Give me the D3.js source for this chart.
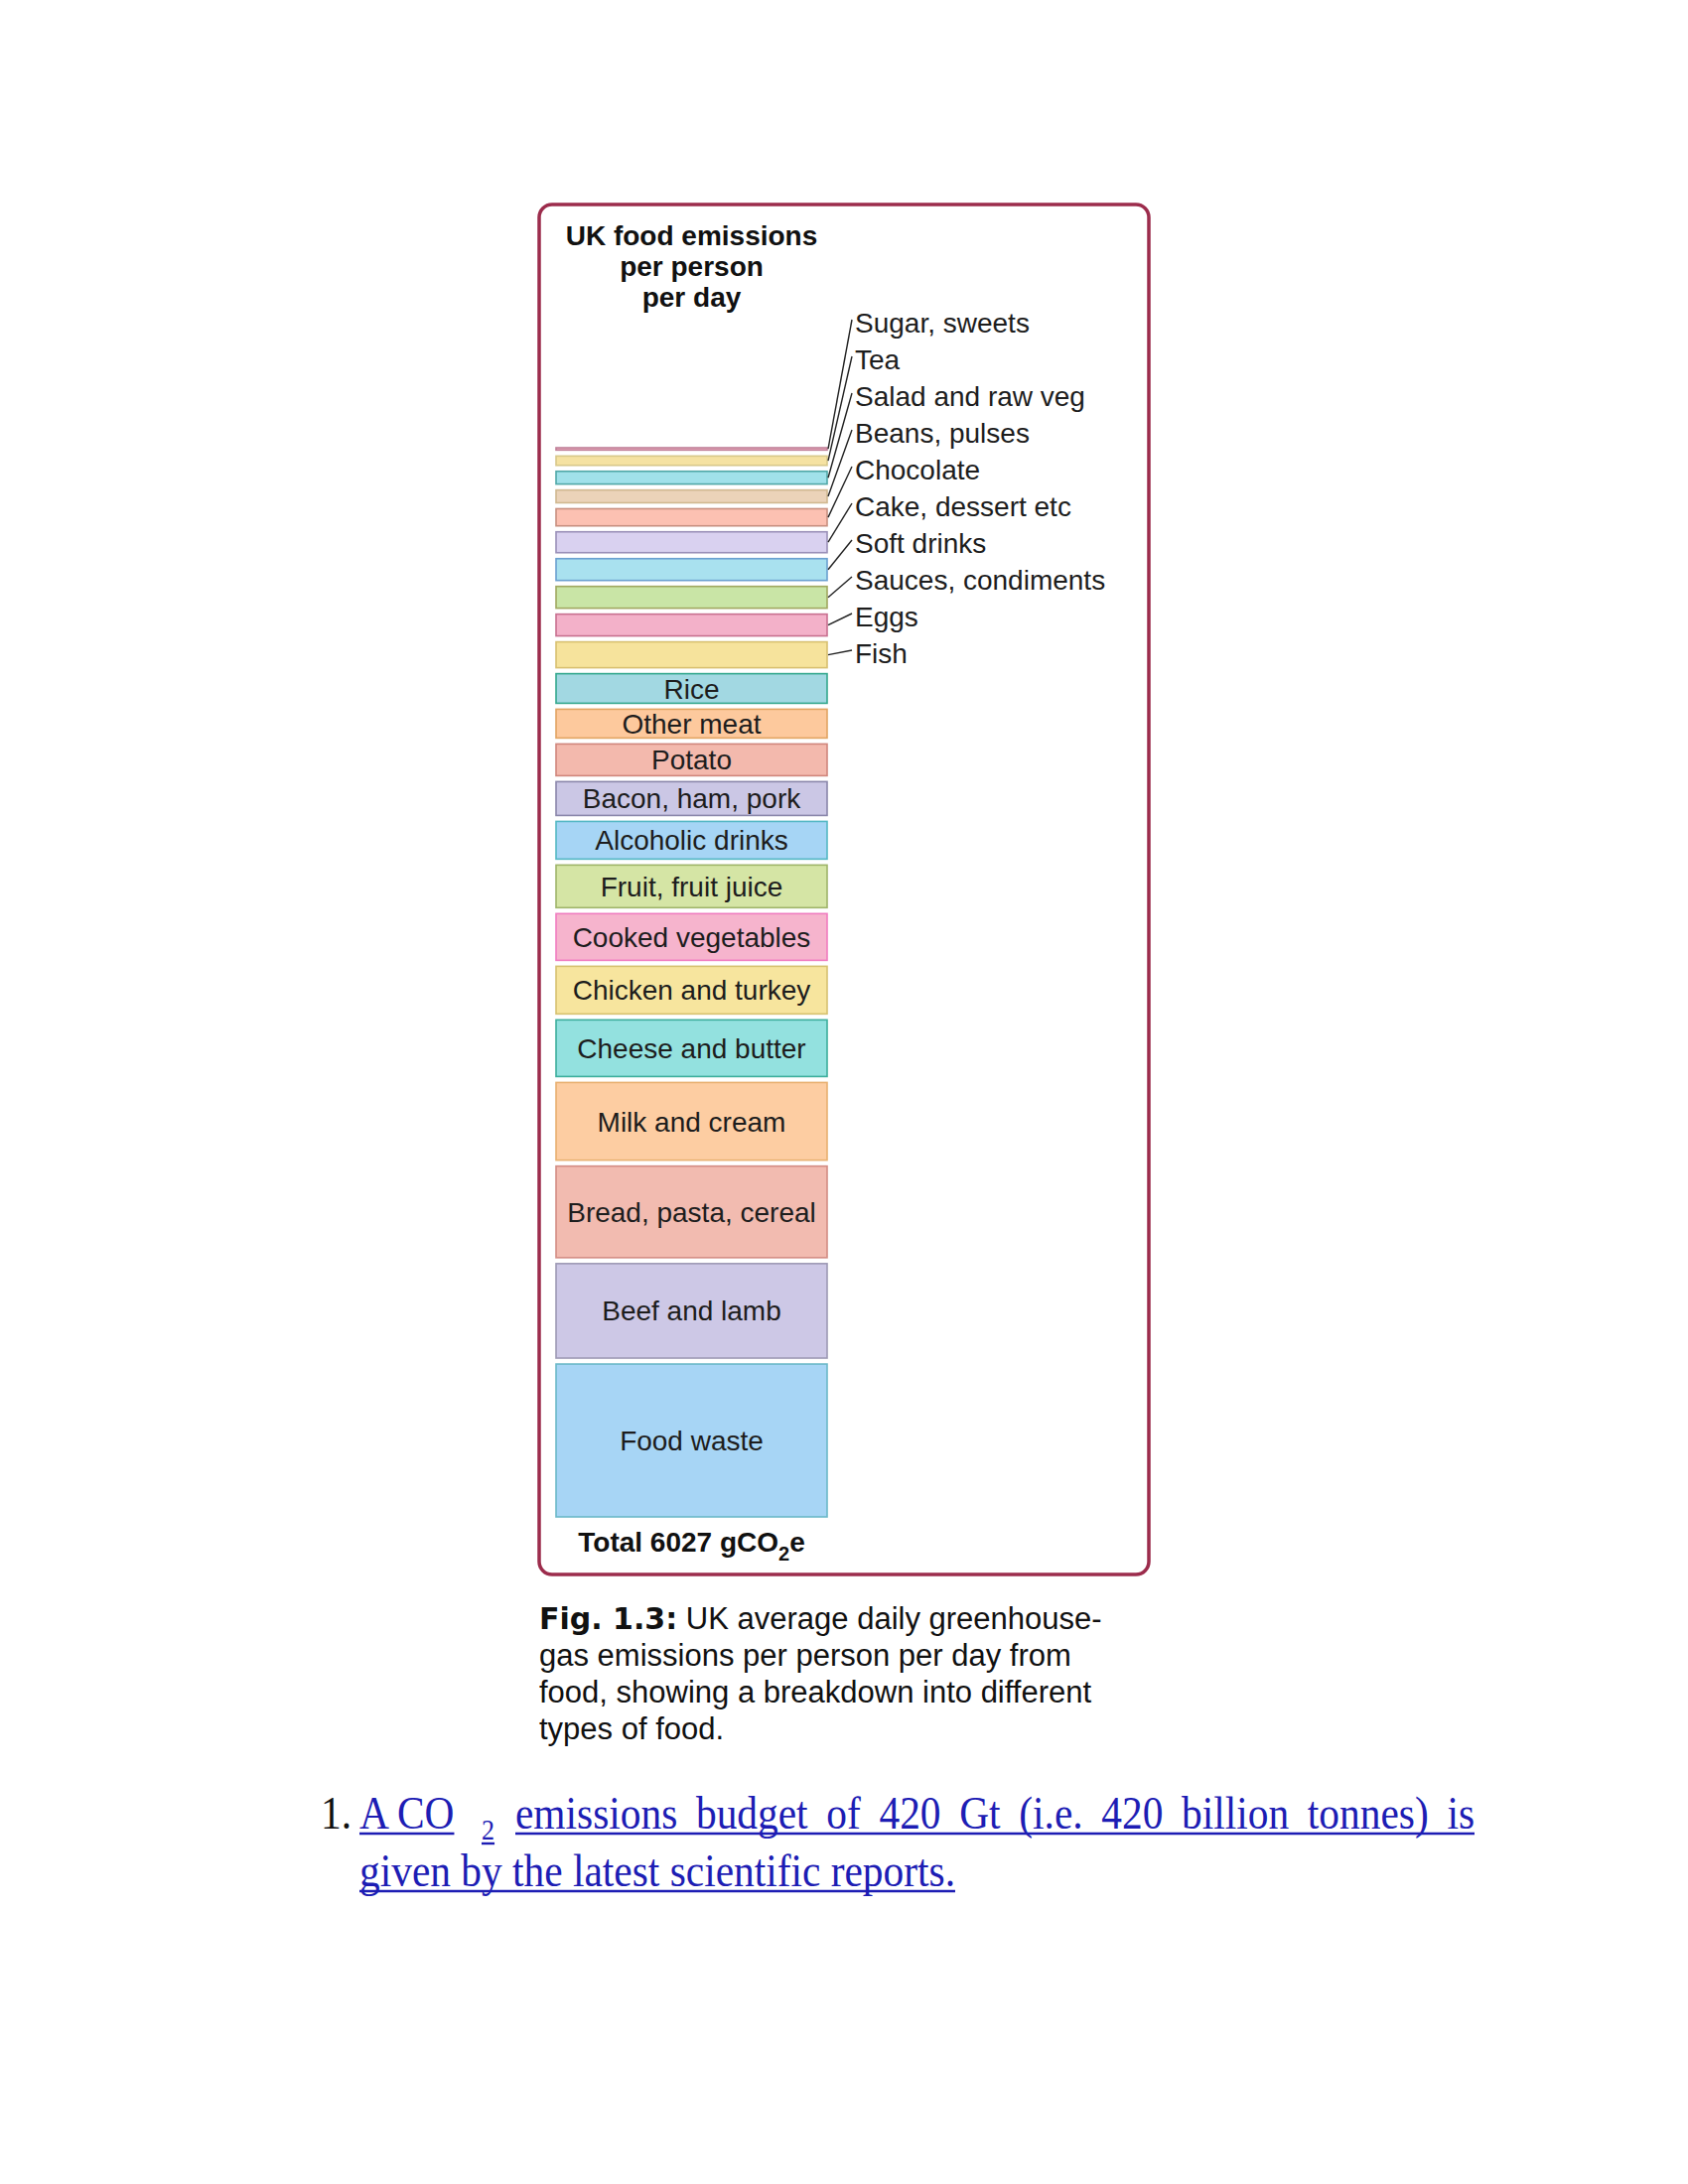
<!DOCTYPE html>
<html>
<head>
<meta charset="utf-8">
<script src="https://cdn.jsdelivr.net/npm/d3@7"></script>
<style>
  html, body { margin: 0; padding: 0; background: #ffffff; }
  svg { display: block; }
  text { font-family: "Liberation Sans", Arial, Helvetica, sans-serif; }
  text.serif { font-family: "Liberation Serif", "Times New Roman", serif; }
  tspan.figbold { font-family: "DejaVu Sans", Verdana, sans-serif; font-weight: bold; }
</style>
</head>
<body>
<svg id="chart" width="1700" height="2200"></svg>
<script>
// ---------------- DATA ----------------
const categories = [
  "Sugar, sweets", "Tea", "Salad and raw veg", "Beans, pulses", "Chocolate",
  "Cake, dessert etc", "Soft drinks", "Sauces, condiments", "Eggs", "Fish",
  "Rice", "Other meat", "Potato", "Bacon, ham, pork", "Alcoholic drinks",
  "Fruit, fruit juice", "Cooked vegetables", "Chicken and turkey",
  "Cheese and butter", "Milk and cream", "Bread, pasta, cereal",
  "Beef and lamb", "Food waste"
];
// gCO2e per person per day (total 6027)
const values = [
  15, 60, 82, 82, 110,
  134, 140, 140, 140, 166,
  190, 185, 204, 217, 242,
  274, 300, 306,
  364, 499, 588,
  607, 982
];
// categories whose names are written beside the bar with a leader line
const calloutCategories = categories.slice(0, 10);
const fills = [
  "#f1b2c2", "#f5e2a2", "#a0e1ea", "#ebd3b9", "#fcc1b2",
  "#d9d1f0", "#a9e1ef", "#c9e5a6", "#f3b1c9", "#f6e39c",
  "#a2d8e2", "#fdc99d", "#f3b9ad", "#cbc7e5", "#a6d5f5",
  "#d5e5a5", "#f6b4cd", "#f7e59e",
  "#93e1df", "#fdcda2", "#f2bbb0",
  "#cdc8e6", "#a7d5f5"
];
const strokes = [
  "#c08098", "#d8c88a", "#50a8a8", "#d0b890", "#c89080",
  "#9a90b8", "#6aa0d0", "#a0a860", "#c87090", "#d8c070",
  "#34a88e", "#e2a463", "#d0867c", "#8a86aa", "#54b8c4",
  "#9fb56a", "#f07cc0", "#d6c170",
  "#3cae9c", "#e8b070", "#d38d84",
  "#9d99b4", "#6bb8c8"
];
const titleLines = ["UK food emissions", "per person", "per day"];
const totalValue = 6027;
const captionBold = "Fig. 1.3:";
const captionLines = [
  " UK average daily greenhouse-",
  "gas emissions per person per day from",
  "food, showing a breakdown into different",
  "types of food."
];

// ---------------- LAYOUT ----------------
const svg = d3.select("#chart");
const barTop = 451, barsPx = 945, gap = 6;
const x = d3.scaleBand().domain(["UK"]).range([560, 833]).padding(0);
const y = d3.scaleLinear().domain([0, d3.sum(values)]).range([0, barsPx]);
const cx = x("UK") + x.bandwidth() / 2;

// frame
svg.append("rect")
  .attr("x", 543).attr("y", 206).attr("width", 614).attr("height", 1380)
  .attr("rx", 13).attr("ry", 13)
  .attr("fill", "#ffffff").attr("stroke", "#9c2c4c").attr("stroke-width", 3.5);

// title
svg.append("g").selectAll("text").data(titleLines).join("text")
  .attr("x", cx).attr("y", (d, i) => 247 + i * 31)
  .attr("text-anchor", "middle").attr("font-weight", "bold")
  .attr("font-size", 28).attr("fill", "#111")
  .text(d => d);

// stacked bars
let cum = 0;
const bars = categories.map((c, i) => {
  const top = barTop + y(cum) + gap * i;
  const h = y(values[i]);
  cum += values[i];
  return { name: c, value: values[i], top, h, fill: fills[i], stroke: strokes[i], i };
});

svg.append("g").selectAll("rect").data(bars).join("rect")
  .attr("x", x("UK")).attr("width", x.bandwidth())
  .attr("y", d => d.top).attr("height", d => d.h)
  .attr("fill", d => d.fill).attr("stroke", d => d.stroke).attr("stroke-width", 1.6);

// labels inside bars
svg.append("g").selectAll("text")
  .data(bars.filter(d => !calloutCategories.includes(d.name)))
  .join("text")
  .attr("x", cx).attr("y", d => d.top + d.h / 2 + 10)
  .attr("text-anchor", "middle").attr("font-size", 28).attr("fill", "#1d1d1d")
  .text(d => d.name);

// callout labels with leader lines
const callouts = bars.filter(d => calloutCategories.includes(d.name));
const labelX = 861;
const labelY = (k) => 325 + k * 37;
svg.append("g").selectAll("line").data(callouts).join("line")
  .attr("x1", x("UK") + x.bandwidth() + 1).attr("y1", d => d.top + d.h / 2)
  .attr("x2", labelX - 3).attr("y2", (d, k) => labelY(k) - 3)
  .attr("stroke", "#222").attr("stroke-width", 1.4);
svg.append("g").selectAll("text").data(callouts).join("text")
  .attr("x", labelX).attr("y", (d, k) => labelY(k) + 10)
  .attr("font-size", 28).attr("fill", "#1d1d1d")
  .text(d => d.name);

// total
const tot = svg.append("text").attr("x", cx).attr("y", 1563)
  .attr("text-anchor", "middle").attr("font-weight", "bold").attr("font-size", 28).attr("fill", "#111");
tot.append("tspan").text("Total " + totalValue + " gCO");
tot.append("tspan").attr("dy", 9).attr("font-size", 20).text("2");
tot.append("tspan").attr("dy", -9).text("e");

// caption
captionLines.forEach((line, i) => {
  const t = svg.append("text").attr("x", 543).attr("y", 1641 + i * 37)
    .attr("font-size", 31).attr("fill", "#111");
  if (i === 0) t.append("tspan").attr("class", "figbold").attr("font-size", 30).text(captionBold);
  t.append("tspan").text(line);
});

// footnote (condensed serif, like the reference)
const blue = "#1d1db4";
const fnSize = 46, sx = 0.9;
const b1 = 1842, b2 = 1900;
function serifText(xPos, yPos, size, fill, str) {
  const g = svg.append("g").attr("transform", `translate(${xPos},${yPos}) scale(${sx},1)`);
  const t = g.append("text").attr("class", "serif").attr("x", 0).attr("y", 0)
    .attr("font-size", size).attr("fill", fill).text(str);
  return { g, w: t.node().getComputedTextLength() * sx };
}
function underline(x1, x2, yy) {
  svg.append("line").attr("x1", x1).attr("x2", x2).attr("y1", yy).attr("y2", yy)
    .attr("stroke", blue).attr("stroke-width", 2.4);
}
serifText(323, b1, fnSize, "#111", "1.");
const aco = serifText(362, b1, fnSize, blue, "A CO");
underline(362, 362 + aco.w, b1 + 5);
const sub = serifText(485, b1 + 11, 29, blue, "2");
underline(485, 485 + sub.w, b1 + 15);

// justified words on line 1
const words = "emissions budget of 420 Gt (i.e. 420 billion tonnes) is".split(" ");
const startX = 519, endX = 1485;
const parts = words.map(w => serifText(0, b1, fnSize, blue, w));
const totalW = d3.sum(parts, d => d.w);
const sp = (endX - startX - totalW) / (words.length - 1);
let px = startX;
parts.forEach(d => { d.g.attr("transform", `translate(${px},${b1}) scale(${sx},1)`); px += d.w + sp; });
underline(startX, endX, b1 + 5);

const l2 = serifText(362, b2, fnSize, blue, "given by the latest scientific reports.");
underline(362, 362 + l2.w, b2 + 5);
</script>
</body>
</html>
